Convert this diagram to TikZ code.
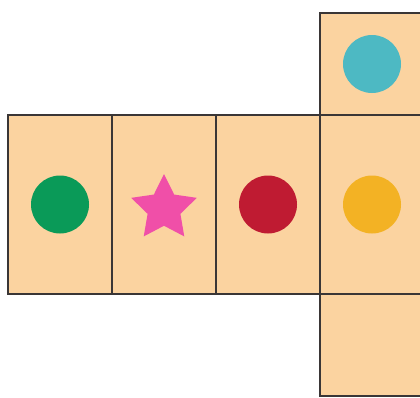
\documentclass[tikz,border=0pt]{standalone}
\usetikzlibrary{positioning,calc,shapes.geometric}

\definecolor{netfill}{HTML}{FBD3A0}
\definecolor{netline}{HTML}{3A3636}
\definecolor{dotgreen}{HTML}{0A9A58}
\definecolor{dotred}{HTML}{BF1B32}
\definecolor{dotyellow}{HTML}{F3B224}
\definecolor{dotcyan}{HTML}{4DB9C3}
\definecolor{starpink}{HTML}{F04FA8}

\begin{document}
\begin{tikzpicture}[
  x=1pt, y=-1pt,
  cell/.style={draw=netline, fill=netfill, line width=1.6pt,
               minimum width=104pt, minimum height=179pt,
               inner sep=0pt, outer sep=0pt},
  sqcell/.style={cell, minimum height=102pt},
  dot/.style={circle, minimum size=58pt, inner sep=0pt},
]
\useasboundingbox (0,0) rectangle (420,397);
\clip (0,0) rectangle (420,397);

% middle row of the net
\node[cell] (c1) at (60,204.5) {};
\node[cell, right=0pt of c1] (c2) {};
\node[cell, right=0pt of c2] (c3) {};
\node[cell, right=0pt of c3] (c4) {};
\node[sqcell, above=0pt of c4] (top) {};
\node[sqcell, below=0pt of c4] (bot) {};

% marks on the faces
\node[dot, fill=dotgreen] (g) at (c1.center) {};
\node[star, star points=5, star point ratio=2.0, minimum size=69pt,
      inner sep=0pt, fill=starpink] (s) at ($(c2.center)+(0,4)$) {};
\node[dot, fill=dotred] (r) at (c3.center) {};
\node[dot, fill=dotyellow] (y) at (c4.center) {};
\node[dot, fill=dotcyan] (b) at (top.center) {};
\end{tikzpicture}
\end{document}
